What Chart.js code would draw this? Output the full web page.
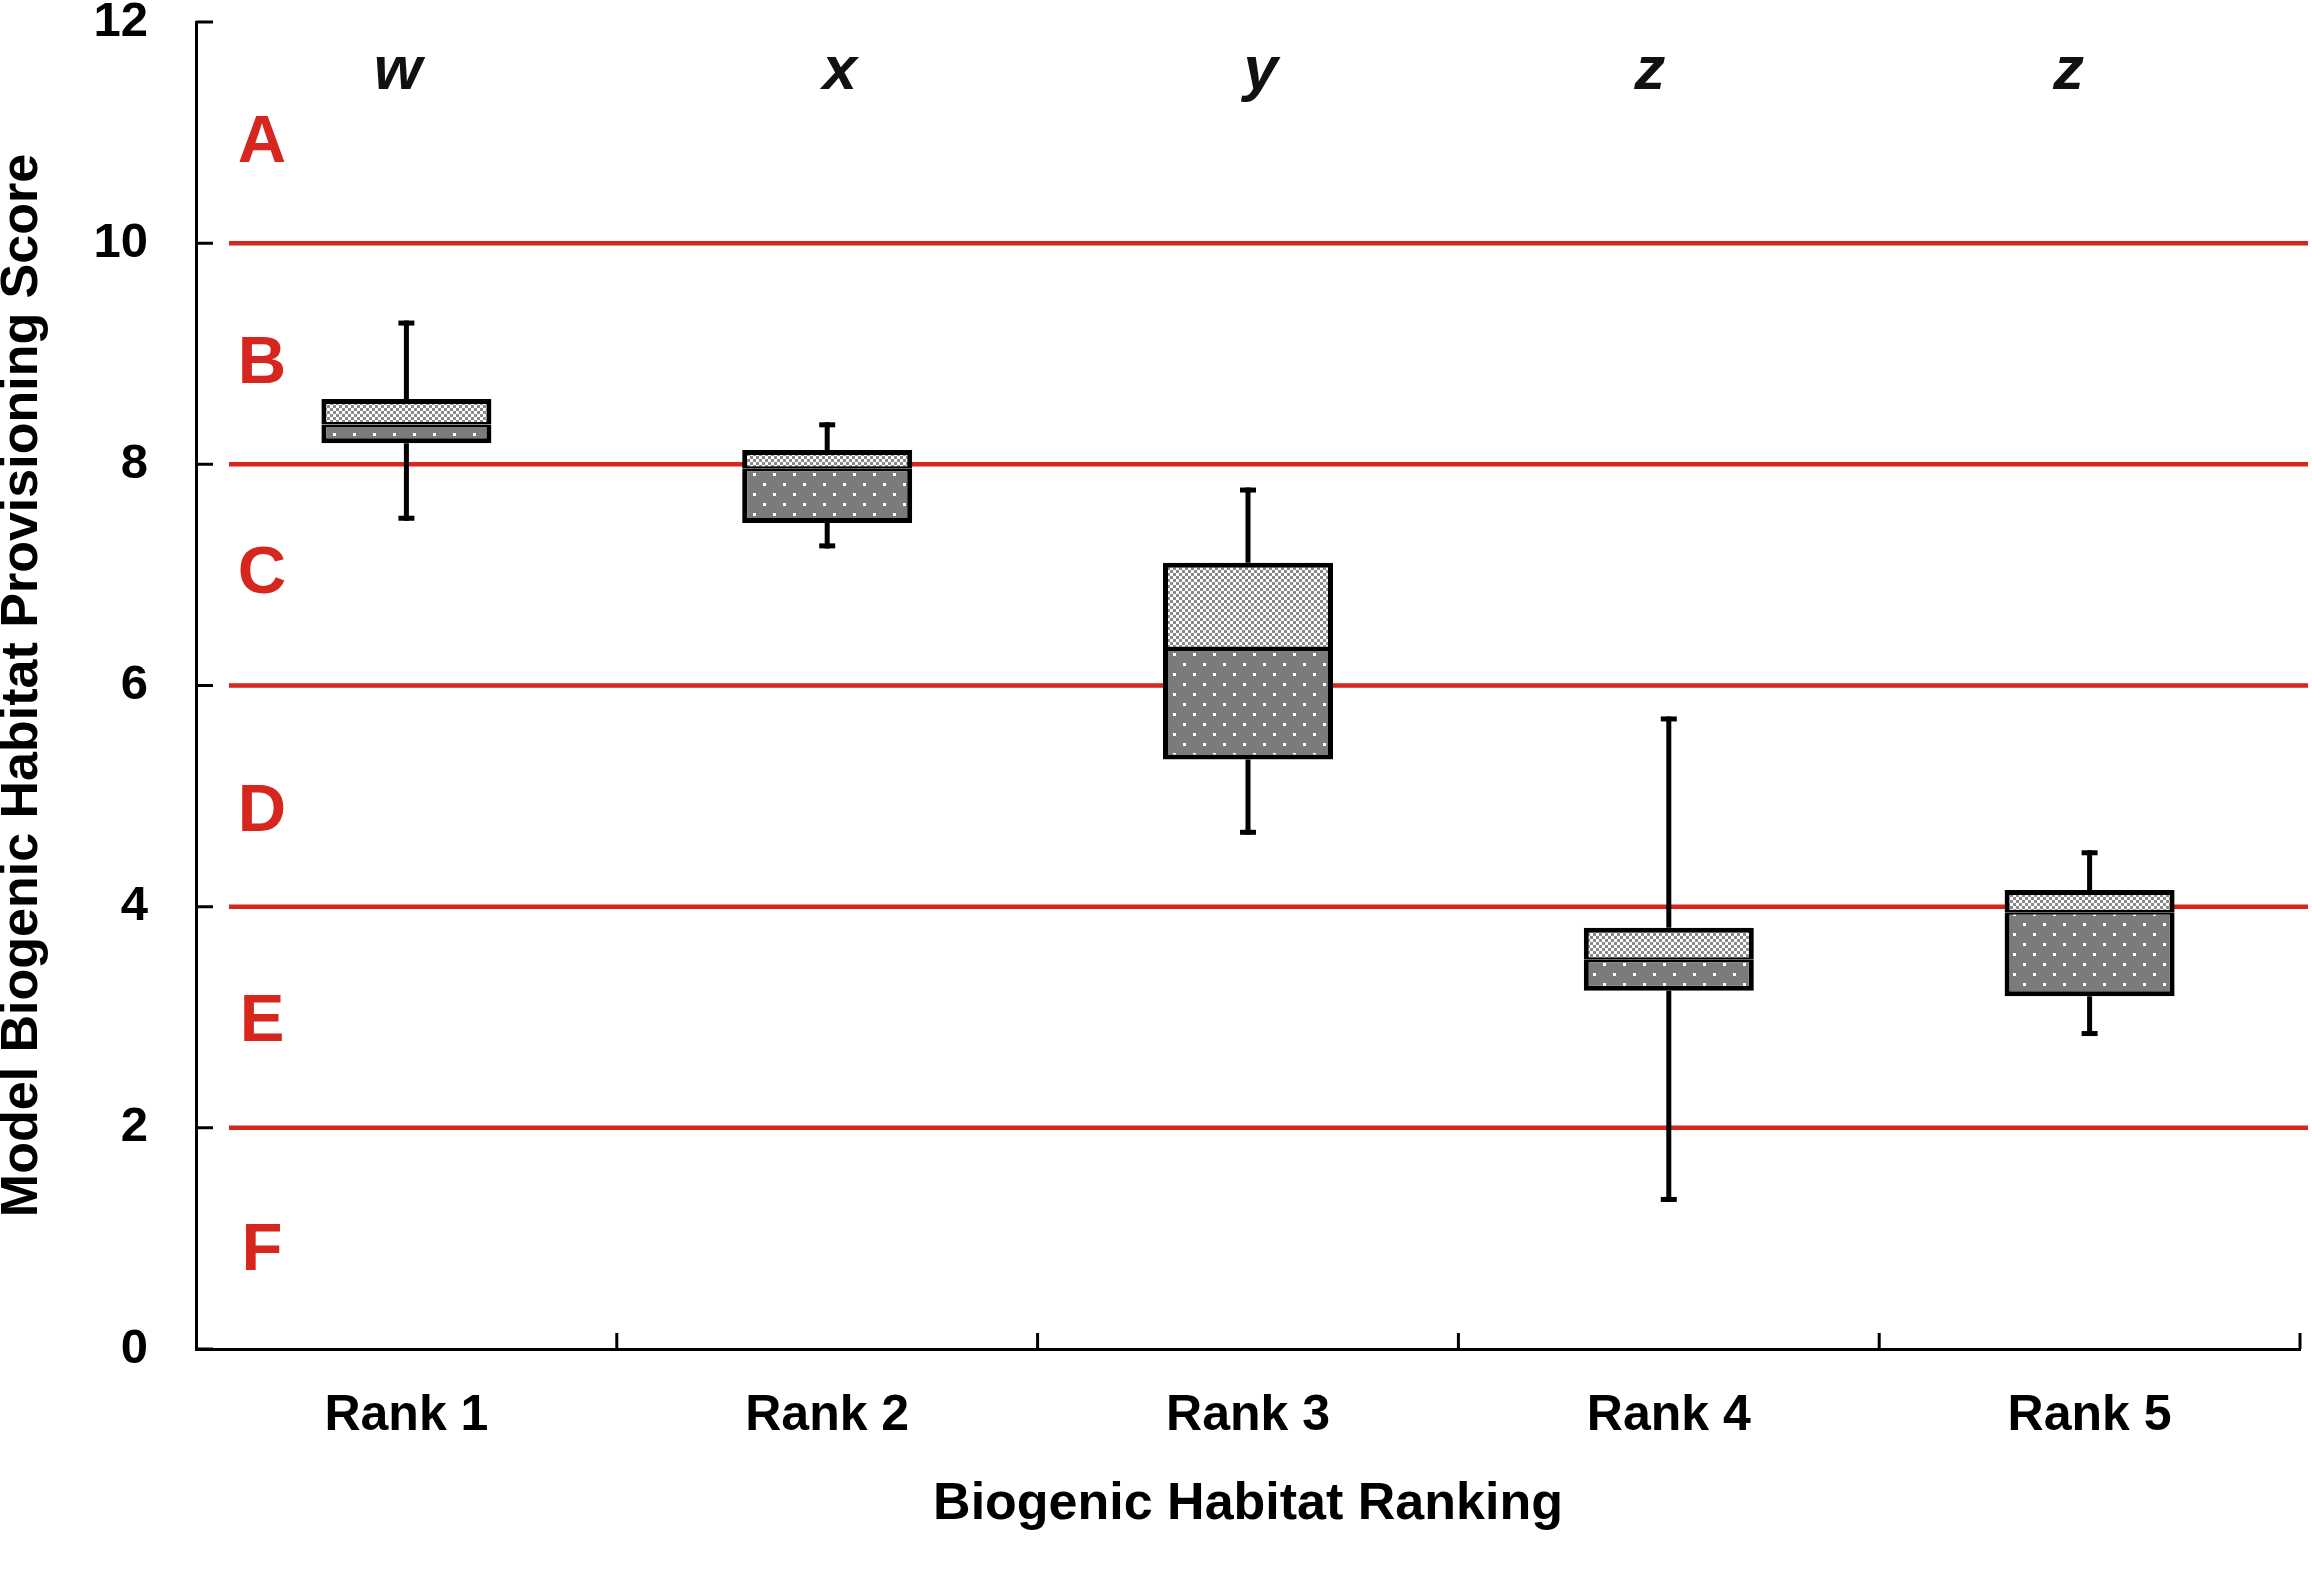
<!DOCTYPE html>
<html>
<head>
    <title>Biogenic Habitat Ranking</title>
    <script src="https://cdn.jsdelivr.net/npm/chart.js@4.4.1/dist/chart.umd.min.js"></script>
    <style>
        * { margin: 0; padding: 0; box-sizing: border-box; }
        body { background: #fff; width: 2312px; height: 1574px; overflow: hidden; }
        .wrap { position: relative; width: 2312px; height: 1574px; }
    </style>
</head>
<body>
    <div class="wrap"><canvas id="boxChart"></canvas></div>

    <script>
        // values
        const categories = ['Rank 1', 'Rank 2', 'Rank 3', 'Rank 4', 'Rank 5'];
        const mins    = [7.49, 7.24, 4.65, 1.33, 2.83];
        const q1      = [8.19, 7.47, 5.33, 3.24, 3.19];
        const medians = [8.36, 7.96, 6.33, 3.52, 3.95];
        const q3      = [8.59, 8.13, 7.11, 3.81, 4.15];
        const maxs    = [9.30, 8.38, 7.79, 5.72, 4.51];

        // significance letters above each box
        const sigLetters = ['w', 'x', 'y', 'z', 'z'];
        const sigShift = [-0.02, 0.03, 0.03, -0.045, -0.05];
        const sigLevel = 11.55;

        // grade bands
        const gradeLines = [2, 4, 6, 8, 10];
        const gradeLetters = ['A', 'B', 'C', 'D', 'E', 'F'];
        const gradeLevels = [10.9, 8.9, 7.0, 4.85, 2.95, 0.88];

        const yTicks = [0, 2, 4, 6, 8, 10, 12];

        const RED = '#d7261e';
        const FONT = '"Liberation Sans", Arial, sans-serif';

        function makePattern(w, h, draw) {
            const c = document.createElement('canvas');
            c.width = w;
            c.height = h;
            draw(c.getContext('2d'));
            return c.getContext('2d').createPattern(c, 'repeat');
        }

        // light checker for the upper half of the box
        const checkFill = makePattern(6, 6, g => {
            g.fillStyle = '#fff';
            g.fillRect(0, 0, 6, 6);
            g.fillStyle = '#8a8a8a';
            g.fillRect(0, 0, 3, 3);
            g.fillRect(3, 3, 3, 3);
        });

        // dark grey with white dots for the lower half
        const dotFill = makePattern(20, 20, g => {
            g.fillStyle = '#7b7b7b';
            g.fillRect(0, 0, 20, 20);
            g.fillStyle = '#fff';
            g.fillRect(3, 3, 3, 3);
            g.fillRect(13, 13, 3, 3);
        });

        // red grade lines and whiskers go under the boxes
        const underlay = {
            id: 'underlay',
            beforeDatasetsDraw(chart) {
                const { ctx, chartArea, scales: { x, y } } = chart;
                ctx.save();
                ctx.strokeStyle = RED;
                ctx.lineWidth = 4.5;
                gradeLines.forEach(v => {
                    const py = y.getPixelForValue(v);
                    ctx.beginPath();
                    ctx.moveTo(chartArea.left + 33, py);
                    ctx.lineTo(chart.width - 4, py);
                    ctx.stroke();
                });

                ctx.strokeStyle = '#000';
                ctx.fillStyle = '#000';
                ctx.lineWidth = 5;
                categories.forEach((c, i) => {
                    const px = x.getPixelForValue(i);
                    const pMax = y.getPixelForValue(maxs[i]);
                    const pMin = y.getPixelForValue(mins[i]);
                    ctx.beginPath();
                    ctx.moveTo(px, pMax);
                    ctx.lineTo(px, y.getPixelForValue(q3[i]));
                    ctx.moveTo(px, y.getPixelForValue(q1[i]));
                    ctx.lineTo(px, pMin);
                    ctx.stroke();
                    ctx.fillRect(px - 8, pMax, 16, 5);
                    ctx.fillRect(px - 8, pMin - 5, 16, 5);
                });
                ctx.restore();
            }
        };

        // inward tick marks and the text annotations
        const overlay = {
            id: 'overlay',
            afterDatasetsDraw(chart) {
                const { ctx, chartArea, scales: { x, y } } = chart;
                ctx.save();
                ctx.strokeStyle = '#000';
                ctx.lineWidth = 3;
                ctx.beginPath();
                yTicks.forEach(v => {
                    const py = y.getPixelForValue(v);
                    ctx.moveTo(chartArea.left, py);
                    ctx.lineTo(chartArea.left + 17, py);
                });
                categories.forEach((c, i) => {
                    const px = x.getPixelForValue(i + 0.5);
                    ctx.moveTo(px, chartArea.bottom);
                    ctx.lineTo(px, chartArea.bottom - 16);
                });
                ctx.stroke();

                ctx.textAlign = 'center';
                ctx.textBaseline = 'middle';
                ctx.fillStyle = RED;
                ctx.font = 'bold 67px ' + FONT;
                gradeLetters.forEach((t, i) => {
                    ctx.fillText(t, chartArea.left + 66, y.getPixelForValue(gradeLevels[i]));
                });

                ctx.fillStyle = '#111';
                ctx.font = 'italic bold 62px ' + FONT;
                sigLetters.forEach((t, i) => {
                    ctx.fillText(t, x.getPixelForValue(i + sigShift[i]), y.getPixelForValue(sigLevel));
                });
                ctx.restore();
            }
        };

        new Chart(document.getElementById('boxChart'), {
            type: 'bar',
            data: {
                labels: categories,
                datasets: [
                    {
                        label: 'Q1 - median',
                        data: categories.map((c, i) => [q1[i], medians[i]]),
                        backgroundColor: dotFill,
                        borderColor: '#000',
                        borderWidth: { top: 2.5, bottom: 5, left: 5, right: 5 },
                        borderSkipped: false
                    },
                    {
                        label: 'median - Q3',
                        data: categories.map((c, i) => [medians[i], q3[i]]),
                        backgroundColor: checkFill,
                        borderColor: '#000',
                        borderWidth: { top: 5, bottom: 2.5, left: 5, right: 5 },
                        borderSkipped: false
                    }
                ]
            },
            options: {
                responsive: true,
                maintainAspectRatio: false,
                animation: false,
                layout: {
                    padding: { top: 22, right: 12, bottom: 0, left: 0 }
                },
                datasets: {
                    bar: { grouped: false, barPercentage: 0.404, categoryPercentage: 1 }
                },
                plugins: {
                    legend: { display: false },
                    tooltip: { enabled: false }
                },
                scales: {
                    x: {
                        afterFit: s => {
                            s.height = 225;
                            s.paddingLeft = 0;
                            s.paddingRight = 0;
                        },
                        grid: { display: false, drawTicks: false },
                        border: { display: true, color: '#000', width: 3 },
                        ticks: {
                            color: '#000',
                            padding: 37,
                            font: { family: FONT, size: 50, weight: 'bold' }
                        },
                        title: {
                            display: true,
                            text: 'Biogenic Habitat Ranking',
                            color: '#000',
                            padding: { top: 0, bottom: 38 },
                            font: { family: FONT, size: 52, weight: 'bold' }
                        }
                    },
                    y: {
                        min: 0,
                        max: 12,
                        afterFit: s => {
                            s.width = 196;
                            s.paddingTop = 0;
                            s.paddingBottom = 0;
                        },
                        afterBuildTicks: s => { s.ticks = yTicks.map(v => ({ value: v })); },
                        grid: { display: false, drawTicks: false },
                        border: { display: true, color: '#000', width: 3 },
                        ticks: {
                            color: '#000',
                            padding: 48,
                            font: { family: FONT, size: 49, weight: 'bold' }
                        },
                        title: {
                            display: true,
                            text: 'Model Biogenic Habitat Provisioning Score',
                            color: '#000',
                            padding: { top: 0, bottom: 0 },
                            font: { family: FONT, size: 52, weight: 'bold', lineHeight: 0.86 }
                        }
                    }
                }
            },
            plugins: [underlay, overlay]
        });
    </script>
</body>
</html>
